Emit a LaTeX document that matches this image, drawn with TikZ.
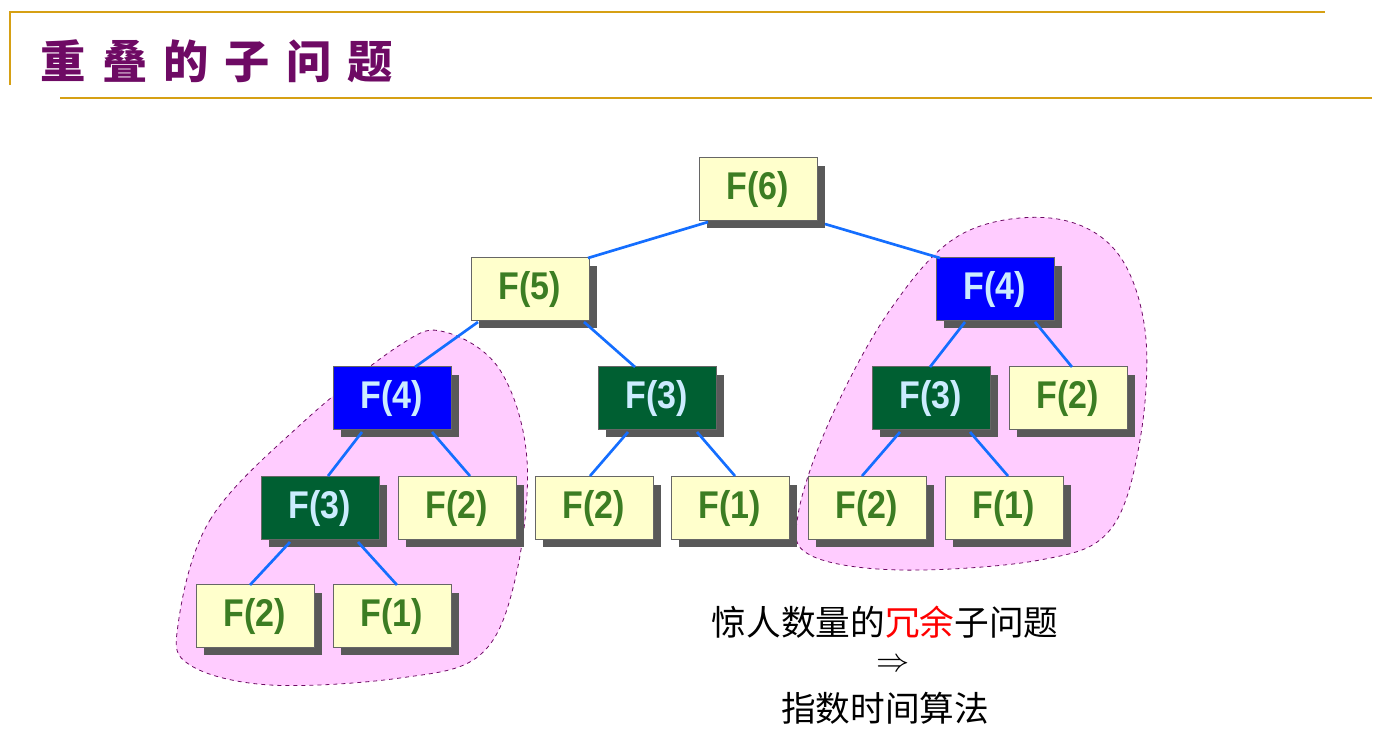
\documentclass[tikz,border=0pt]{standalone}
\usepackage{fontspec}
\setmainfont{Liberation Sans}
\newfontfamily\cjk{Noto Sans CJK SC}
\usetikzlibrary{shadows}
\definecolor{gold}{RGB}{214,160,20}
\definecolor{ttl}{RGB}{110,10,100}
\definecolor{ybox}{RGB}{255,255,204}
\definecolor{gtxt}{RGB}{60,125,35}
\definecolor{dgreen}{RGB}{0,95,50}
\definecolor{ltxt}{RGB}{204,236,255}
\definecolor{edge}{RGB}{20,110,255}
\definecolor{blob}{RGB}{255,204,255}
\newcommand\fx[1]{\scalebox{0.88}[1]{#1}}
\begin{document}
\begin{tikzpicture}[x=0.75pt,y=-0.75pt,
  fb/.style={draw=black!60,line width=0.6pt,minimum width=88.5pt,minimum height=47pt,inner sep=0pt,
    font=\fontsize{29}{29}\selectfont\bfseries,
    drop shadow={shadow xshift=6pt,shadow yshift=-6pt,fill=black!65,opacity=1}},
  yb/.style={fb,fill=ybox,text=gtxt},
  bb/.style={fb,fill=blue,text=ltxt},
  gb/.style={fb,fill=dgreen,text=ltxt},
  ed/.style={edge,line width=2pt},
  bl/.style={fill=blob,draw=ttl,dashed,line width=0.6pt}]
\useasboundingbox (0,0) rectangle (1379,754);
\draw[gold,line width=1.5pt] (10,85) -- (10,12) -- (1325,12);
\draw[gold,line width=1.5pt] (60,98) -- (1372,98);
\node[anchor=west,text=ttl,font=\cjk\bfseries\fontsize{34}{34}\selectfont] (title) at (36,61) {重\hspace{12pt}叠\hspace{12pt}的\hspace{12pt}子\hspace{12pt}问\hspace{12pt}题};
% blobs
\draw[bl] plot[smooth cycle,tension=0.6] coordinates {(178,625) (210,520) (300,425) (400,345) (445,332) (500,370) (527,460) (515,580) (480,655) (400,678) (270,685) (190,665)};
\draw[bl] plot[smooth cycle,tension=0.6] coordinates {(798,515) (830,420) (890,310) (960,235) (1050,218) (1115,250) (1145,330) (1140,440) (1110,530) (1040,560) (900,570) (810,555)};
% nodes
\node[yb] (f6) at (758,189) {\fx{F(6)}};
\node[yb] (f5) at (530,289) {\fx{F(5)}};
\node[bb] (f4r) at (995,289) {\fx{F(4)}};
\node[bb] (f4l) at (392,398) {\fx{F(4)}};
\node[gb] (f3m) at (657,398) {\fx{F(3)}};
\node[gb] (f3r) at (931,398) {\fx{F(3)}};
\node[yb] (f2r) at (1068,398) {\fx{F(2)}};
\node[gb] (f3l) at (320,508) {\fx{F(3)}};
\node[yb] (f2a) at (457,508) {\fx{F(2)}};
\node[yb] (f2b) at (594,508) {\fx{F(2)}};
\node[yb] (f1b) at (730,508) {\fx{F(1)}};
\node[yb] (f2c) at (867,508) {\fx{F(2)}};
\node[yb] (f1c) at (1004,508) {\fx{F(1)}};
\node[yb] (f2d) at (255,616) {\fx{F(2)}};
\node[yb] (f1d) at (392,616) {\fx{F(1)}};
% edges
\draw[ed] ([shift={(-50,33)}]f6.center) -- ([shift={(58,-31)}]f5.center);
\draw[ed] ([shift={(67,35)}]f6.center) -- ([shift={(-55,-31)}]f4r.center);
\draw[ed] ([shift={(-52,33)}]f5.center) -- ([shift={(23,-31)}]f4l.center);
\draw[ed] ([shift={(54,33)}]f5.center) -- ([shift={(-22,-31)}]f3m.center);
\draw[ed] ([shift={(-30,33)}]f4r.center) -- ([shift={(-1,-31)}]f3r.center);
\draw[ed] ([shift={(40,33)}]f4r.center) -- ([shift={(4,-31)}]f2r.center);
\draw[ed] ([shift={(-30,34)}]f4l.center) -- ([shift={(8,-32)}]f3l.center);
\draw[ed] ([shift={(40,34)}]f4l.center) -- ([shift={(13,-32)}]f2a.center);
\draw[ed] ([shift={(-29,34)}]f3m.center) -- ([shift={(-4,-32)}]f2b.center);
\draw[ed] ([shift={(40,34)}]f3m.center) -- ([shift={(5,-32)}]f1b.center);
\draw[ed] ([shift={(-31,34)}]f3r.center) -- ([shift={(-5,-32)}]f2c.center);
\draw[ed] ([shift={(39,34)}]f3r.center) -- ([shift={(4,-32)}]f1c.center);
\draw[ed] ([shift={(-30,34)}]f3l.center) -- ([shift={(-5,-31)}]f2d.center);
\draw[ed] ([shift={(38,34)}]f3l.center) -- ([shift={(5,-31)}]f1d.center);
% caption
\node[font=\cjk\fontsize{26}{26}\selectfont] (c1) at (885,622) {惊人数量的\textcolor{red}{冗余}子问题};
\node[font=\fontsize{26}{26}\selectfont] (c2) at (893,665) {$\Rightarrow$};
\node[font=\cjk\fontsize{26}{26}\selectfont] (c3) at (885,708) {指数时间算法};
\end{tikzpicture}
\end{document}
